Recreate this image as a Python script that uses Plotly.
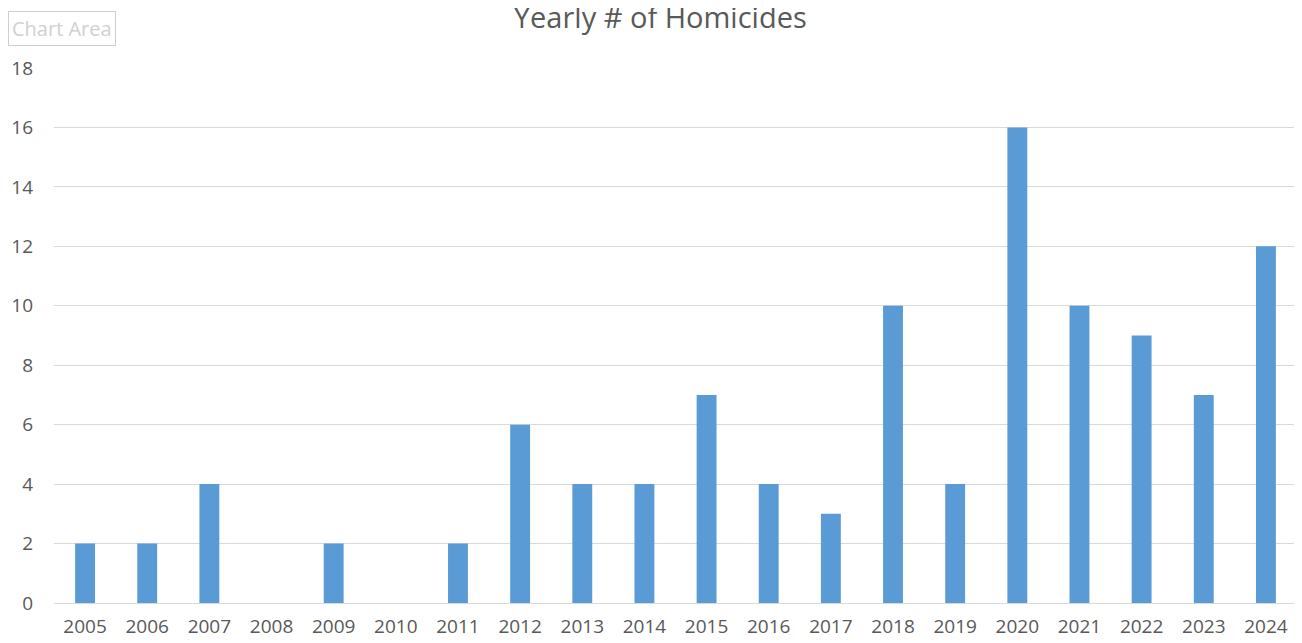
import plotly.graph_objects as go

years = [str(y) for y in range(2005, 2025)]
homicides = [2, 2, 4, 0, 2, 0, 2, 6, 4, 4, 7, 4, 3, 10, 4, 16, 10, 9, 7, 12]
y_ticks = list(range(0, 19, 2))

fig = go.Figure(go.Bar(x=years, y=homicides, marker=dict(color="#5B9BD5", line=dict(width=0)),
                       width=0.32))

fig.update_layout(
    width=1302, height=643,
    margin=dict(l=46, r=13, t=60, b=48, autoexpand=False),
    paper_bgcolor="white", plot_bgcolor="white",
    title=dict(text="Yearly # of Homicides", x=0.501, xanchor="center", y=1.0, yanchor="top",
               pad=dict(t=0, b=0), font=dict(family="Open Sans", size=29, color="#595959")),
    font=dict(family="Open Sans", size=15, color="#595959"),
    showlegend=False,
    bargap=0.68,
)
fig.update_xaxes(type="category", showgrid=False, showline=True, linecolor="#D9D9D9", linewidth=1,
                 ticks="", ticklabelstandoff=6, automargin=False,
                 tickfont=dict(size=19, color="#595959"))
fig.update_yaxes(range=[0, 18], tickvals=y_ticks, showgrid=True, gridcolor="#D9D9D9", gridwidth=1,
                 zeroline=False, ticks="", ticklabelstandoff=20, automargin=False,
                 tickfont=dict(size=19, color="#595959"))
fig.add_annotation(text="Chart Area", xref="paper", yref="paper", x=-0.037, y=1.073,
                   xanchor="left", yanchor="middle", showarrow=False,
                   font=dict(family="Open Sans", size=20, color="#D0D0D0"),
                   bgcolor="white", bordercolor="#CFCFCF", borderwidth=1, borderpad=3)
fig.write_html("out.html")
